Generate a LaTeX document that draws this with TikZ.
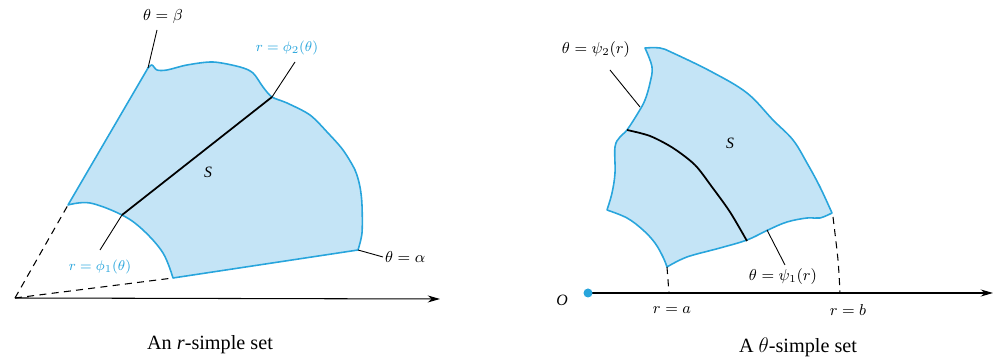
\documentclass[tikz,border=0pt]{standalone}
\usepackage{fontspec}
\setmainfont{Liberation Serif}
\usetikzlibrary{arrows.meta}
\definecolor{regfill}{RGB}{196,228,246}
\definecolor{regline}{RGB}{40,165,220}
\tikzset{
  x=0.02cm, y=-0.02cm,
  region/.style={fill=regfill, draw=regline, line width=0.9pt, line join=round},
  bluetxt/.style={text=regline, font=\fontsize{8.5}{10}\selectfont, inner sep=1pt},
  blacktxt/.style={text=black, font=\fontsize{9}{10}\selectfont, inner sep=1pt},
  leader/.style={draw=black, line width=0.5pt},
  rayline/.style={draw=black, line width=1pt},
  dashline/.style={draw=black, line width=0.6pt, dash pattern=on 4pt off 3pt},
  axis/.style={draw=black, line width=0.6pt, -{Stealth[length=7pt,width=4pt]}},
  caption/.style={font=\fontsize{11.5}{13}\selectfont, inner sep=1pt}
}
\begin{document}
\begin{tikzpicture}
\useasboundingbox (0,0) rectangle (995,357);
% ---------- left figure: r-simple set ----------
\coordinate (OL) at (15,298);
\coordinate (AL) at (440,299);
\coordinate (bA) at (68,205);   % inner arc on theta=beta
\coordinate (bB) at (148,68);   % outer on theta=beta
\coordinate (aA) at (173,278);  % inner arc on theta=alpha
\coordinate (aB) at (358,250);  % outer on theta=alpha
\coordinate (p1) at (122,215);
\coordinate (p2) at (272,97);
\path[region] (bB)
  -- plot[smooth, tension=0.5] coordinates {(148,68) (152,65) (157,70) (167,70) (187,65) (213,62) (240,67) (253,73) (263,87) (272,97) (287,103) (310,115) (328,133) (343,150) (355,170) (360,187) (362,205) (362,233) (358,250)}
  -- (aA)
  -- plot[smooth, tension=0.6] coordinates {(173,278) (163,253) (143,230) (122,215) (90,203) (68,205)}
  -- cycle;
\draw[dashline] (OL) -- (bA);
\draw[dashline] (OL) -- (aA);
\draw[axis] (OL) -- (AL);
\draw[rayline] (p1) -- (p2);
\node[blacktxt] (S1) at (208,172) {\itshape S};
\node[blacktxt] (tb) at (163,17) {$\theta = \beta$};
\draw[leader] (157,30) -- (bB);
\node[bluetxt] (phi2) at (287,48) {$r = \phi_2(\theta)$};
\coordinate (l2) at (295,62);
\draw[leader] (p2) -- (l2);
\node[bluetxt] (phi1) at (100,267) {$r = \phi_1(\theta)$};
\coordinate (l1) at (100,250);
\draw[leader] (l1) -- (p1);
\node[blacktxt, anchor=west] (ta) at (383,257) {$\theta = \alpha$};
\draw[leader] (aB) -- (ta.west);
\node[caption] (cap1) at (210,345) {An \textit{r}-simple set};
% ---------- right figure: theta-simple set ----------
\coordinate (OR) at (588,293);
\coordinate (AR) at (993,293);
\coordinate (c1) at (645,48);
\coordinate (c2) at (832,213);
\coordinate (c3) at (667,267);
\coordinate (c4) at (607,210);
\coordinate (q1) at (627,130);
\coordinate (q2) at (747,241);
\path[region] (c1)
  -- plot[smooth, tension=0.6] coordinates {(645,48) (660,48) (673,53) (712,72) (747,93) (773,120) (793,140) (807,163) (820,187) (832,213)}
  -- plot[smooth, tension=0.6] coordinates {(832,213) (820,218) (807,218) (787,222) (768,230) (747,240) (720,248) (687,257) (667,267)}
  -- plot[smooth, tension=0.6] coordinates {(667,267) (663,257) (655,243) (643,230) (627,218) (607,210)}
  -- plot[smooth, tension=0.6] coordinates {(607,210) (612,193) (615,173) (615,147) (620,137) (627,130) (638,113) (645,100) (650,83) (652,67) (645,48)}
  -- cycle;
\draw[rayline] plot[smooth] coordinates {(627,130) (650,136) (673,148) (695,165) (712,187) (730,212) (747,241)};
\draw[dashline] (c3) -- (669,293);
\draw[dashline] plot[smooth] coordinates {(833,217) (838,260) (840,293)};
\draw[axis] (OR) -- (AR);
\fill[regline] (OR) circle[radius=4.5];
\node[blacktxt] (O) at (562,300) {\itshape O};
\node[blacktxt] (S2) at (730,143) {\itshape S};
\node[blacktxt] (psi2) at (596,50) {$\theta = \psi_2(r)$};
\coordinate (m2a) at (610,70);
\coordinate (m2b) at (640,107);
\draw[leader] (m2a) -- (m2b);
\node[blacktxt] (psi1) at (783,277) {$\theta = \psi_1(r)$};
\coordinate (m1a) at (767,230);
\coordinate (m1b) at (785,265);
\draw[leader] (m1a) -- (m1b);
\node[blacktxt] (ra) at (672,310) {$r = a$};
\node[blacktxt] (rb) at (848,310) {$r = b$};
\node[caption] (cap2) at (798,347) {A $\theta$-simple set};
\end{tikzpicture}
\end{document}
